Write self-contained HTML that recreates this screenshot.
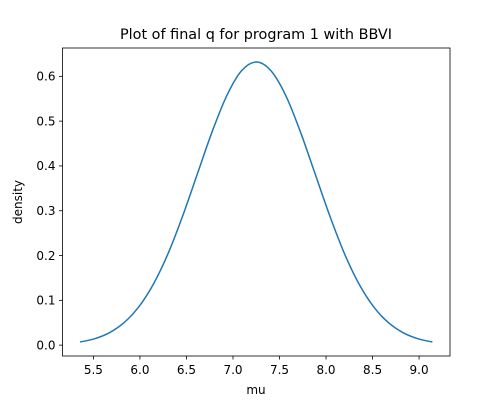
<!DOCTYPE html>
<html><head><meta charset="utf-8"><style>
body{margin:0;background:#fff}
svg text{font-family:"DejaVu Sans","Liberation Sans",sans-serif;fill:#000}
</style></head><body>
<svg id="chart" width="500" height="400" xmlns="http://www.w3.org/2000/svg">
<rect width="500" height="400" fill="#fff"/>
<text x="256" y="39" font-size="14.4" text-anchor="middle">Plot of final q for program 1 with BBVI</text>
<g id="xt"></g><g id="yt"></g>
<path id="curve" fill="none" stroke="#1f77b4" stroke-width="1.5"/>
<rect x="62.5" y="48" width="387.5" height="308" fill="none" stroke="#000" stroke-width="0.8"/>
<text x="256" y="394" font-size="12" text-anchor="middle">mu</text>
<text transform="translate(22,202) rotate(-90)" font-size="12" text-anchor="middle">density</text>
</svg>
<script>
const xs=[5.357,5.515,5.673,5.830,5.988,6.146,6.304,6.461,6.619,6.777,6.935,7.092,7.25,7.408,7.566,7.723,7.881,8.039,8.196,8.354,8.512,8.670,8.828,8.985,9.143];
const ys=[0.0070,0.0144,0.0278,0.0503,0.0855,0.1367,0.2052,0.2893,0.3833,0.4770,0.5577,0.6125,0.632,0.6125,0.5577,0.4770,0.3833,0.2893,0.2052,0.1367,0.0855,0.0503,0.0278,0.0144,0.0070];
const xTicks=[5.5,6.0,6.5,7.0,7.5,8.0,8.5,9.0];
const yTicks=[0.0,0.1,0.2,0.3,0.4,0.5,0.6];
const L=62.5,R=450,T=48,B=356;
const xmin=Math.min(...xs),xmax=Math.max(...xs),ymin=Math.min(...ys),ymax=Math.max(...ys);
const xpad=(xmax-xmin)*0.05,ypad=(ymax-ymin)*0.05;
const X=v=>L+(v-(xmin-xpad))/((xmax+xpad)-(xmin-xpad))*(R-L);
const Y=v=>B-(v-(ymin-ypad))/((ymax+ypad)-(ymin-ypad))*(B-T);
const NS="http://www.w3.org/2000/svg";
const P=xs.map((x,i)=>[X(x),Y(ys[i])]);
let d='M'+P[0][0].toFixed(2)+','+P[0][1].toFixed(2);
for(let i=0;i<P.length-1;i++){
 const p0=P[Math.max(i-1,0)],p1=P[i],p2=P[i+1],p3=P[Math.min(i+2,P.length-1)];
 const c1=[p1[0]+(p2[0]-p0[0])/6,p1[1]+(p2[1]-p0[1])/6];
 const c2=[p2[0]-(p3[0]-p1[0])/6,p2[1]-(p3[1]-p1[1])/6];
 d+='C'+c1.map(v=>v.toFixed(2)).join(',')+' '+c2.map(v=>v.toFixed(2)).join(',')+' '+p2.map(v=>v.toFixed(2)).join(',');
}
document.getElementById('curve').setAttribute('d',d);
const xt=document.getElementById('xt');
xTicks.forEach(t=>{
 const l=document.createElementNS(NS,'line');
 
 
 l.setAttribute('x1',X(t));l.setAttribute('x2',X(t));l.setAttribute('y1',B);l.setAttribute('y2',B+3.5);l.setAttribute('stroke','#000');l.setAttribute('stroke-width','0.8');
 xt.appendChild(l);
 const s=document.createElementNS(NS,'text');
 
 
 s.setAttribute('x',X(t));s.setAttribute('y',B+18);s.setAttribute('font-size','12');s.setAttribute('text-anchor','middle');
 s.textContent=t.toFixed(1);xt.appendChild(s);
});
const yt=document.getElementById('yt');
yTicks.forEach(t=>{
 const l=document.createElementNS(NS,'line');
 
 
 l.setAttribute('x1',L-3.5);l.setAttribute('x2',L);l.setAttribute('y1',Y(t));l.setAttribute('y2',Y(t));l.setAttribute('stroke','#000');l.setAttribute('stroke-width','0.8');
 yt.appendChild(l);
 const s=document.createElementNS(NS,'text');
 
 
 s.setAttribute('x',L-7);s.setAttribute('y',Y(t)+4.3);s.setAttribute('font-size','12');s.setAttribute('text-anchor','end');
 s.textContent=t.toFixed(1);yt.appendChild(s);
});
</script>
</body></html>
